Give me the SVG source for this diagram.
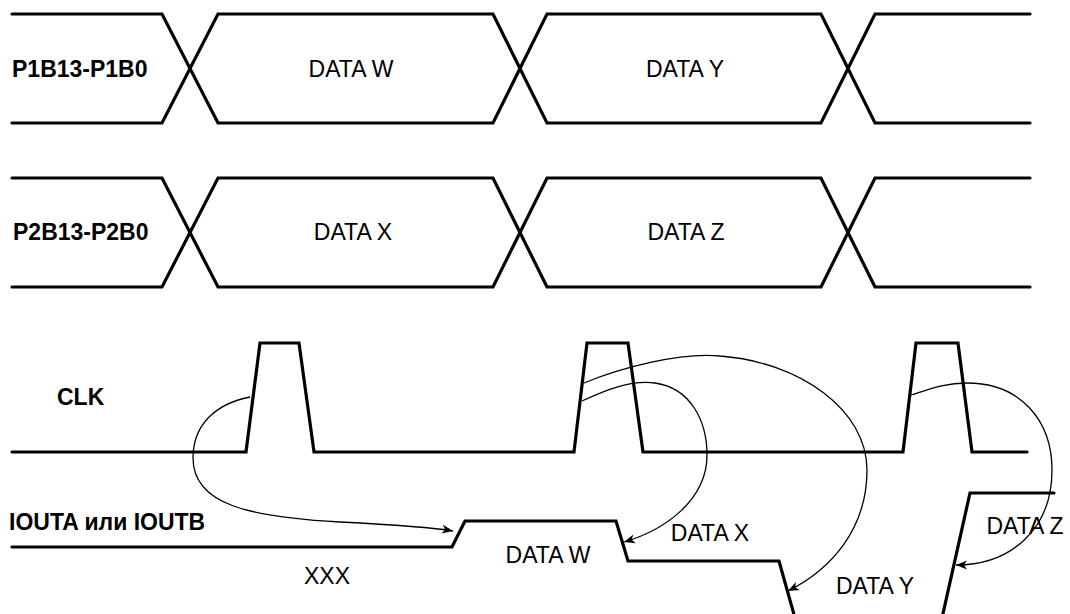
<svg xmlns="http://www.w3.org/2000/svg" width="1070" height="614" viewBox="0 0 1070 614">
  <style>
    .wave { fill: none; stroke: #000; stroke-width: 3.2; stroke-linecap: round; stroke-linejoin: miter; }
    .link { fill: none; stroke: #000; stroke-width: 1.3; }
    .lbl { font-family: "Liberation Sans", Arial, sans-serif; font-size: 23px; font-weight: bold; fill: #000; }
    .val { font-family: "Liberation Sans", Arial, sans-serif; font-size: 23px; fill: #000; }
    .mid { text-anchor: middle; }
  </style>
  <defs>
    <marker id="arrow" markerUnits="userSpaceOnUse" markerWidth="14" markerHeight="10" refX="11" refY="5" orient="auto">
      <path d="M0,0.5 L11,5 L0,9.5 L3,5 Z" fill="#000"/>
    </marker>
  </defs>

  <rect width="1070" height="614" fill="#fff"/>

  <!-- bus P1 -->
  <g id="bus-p1">
    <path class="wave" d="M12,14 H162 L218,123 H493 L547,14 H821 L875,123 H1030"/>
    <path class="wave" d="M12,123 H162 L218,14 H493 L547,123 H821 L875,14 H1030"/>
    <text class="lbl" x="12" y="77">P1B13-P1B0</text>
    <text class="val mid" x="351" y="77">DATA W</text>
    <text class="val mid" x="685" y="77">DATA Y</text>
  </g>

  <!-- bus P2 -->
  <g id="bus-p2">
    <path class="wave" d="M12,178 H162 L218,287 H493 L547,178 H821 L875,287 H1030"/>
    <path class="wave" d="M12,287 H162 L218,178 H493 L547,287 H821 L875,178 H1030"/>
    <text class="lbl" x="13" y="240">P2B13-P2B0</text>
    <text class="val mid" x="353" y="240">DATA X</text>
    <text class="val mid" x="686" y="240">DATA Z</text>
  </g>

  <!-- clock -->
  <g id="clk">
    <path class="wave" d="M12,452 H246 L260,343 H299 L314,452 H574 L587,343 H628 L643,452 H903 L916,343 H958 L972,452 H1027"/>
    <text class="lbl" x="57" y="405">CLK</text>
  </g>

  <!-- output -->
  <g id="iout">
    <path class="wave" d="M12,547 H452 L465,521 H616 L628,561 H779 L795,618"/>
    <path class="wave" d="M942,618 L970,493 H1054"/>
    <text class="lbl" x="9" y="530">IOUTA или IOUTB</text>
    <text class="val mid" x="327" y="584">XXX</text>
    <text class="val mid" x="548" y="563">DATA W</text>
    <text class="val mid" x="710" y="541">DATA X</text>
    <text class="val mid" x="875" y="594">DATA Y</text>
    <text class="val mid" x="1025" y="534">DATA Z</text>
  </g>

  <!-- clock edge to output transitions -->
  <g id="connectors">
    <path class="link" marker-end="url(#arrow)" d="M250,397 C215,404 193,425 193,458 C193,505 250,517 340,522 C400,525 430,527 453,531"/>
    <path class="link" marker-end="url(#arrow)" d="M582,401 C605,390 630,380 655,383 C690,388 707,420 707,455 C707,500 665,530 624,542"/>
    <path class="link" marker-end="url(#arrow)" d="M584,383 C620,368 680,352 720,356 C800,362 867,410 867,470 C867,530 830,570 788,591"/>
    <path class="link" marker-end="url(#arrow)" d="M911,395 C930,389 945,383 967,383 C1020,383 1052,420 1052,470 C1052,530 1010,565 956,565"/>
  </g>
</svg>
